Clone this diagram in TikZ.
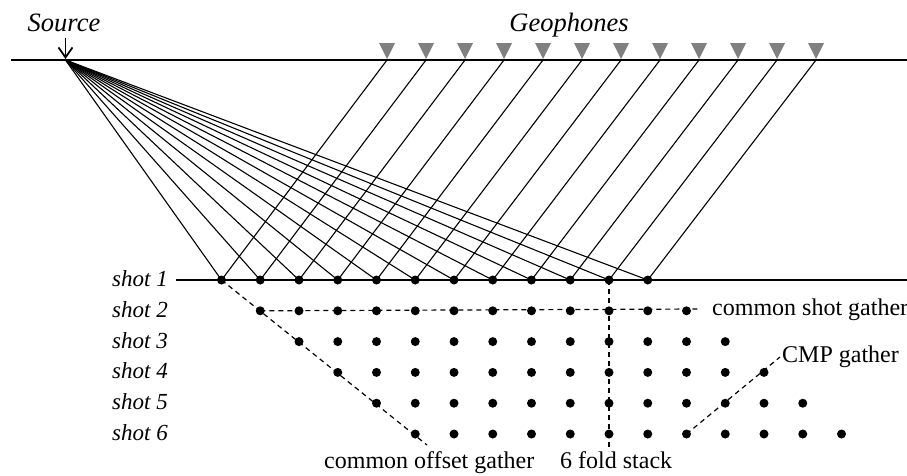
\documentclass[tikz,border=0pt]{standalone}
\usepackage{fontspec}
\setmainfont{Liberation Serif}
\usetikzlibrary{arrows.meta}
\definecolor{geogray}{HTML}{808080}
\begin{document}
\begin{tikzpicture}[x=1pt,y=-1pt,
  dot/.style={circle,fill=black,inner sep=0pt,minimum size=9pt},
  geo/.style={fill=geogray},
  ray/.style={line width=1.1pt},
  ground/.style={line width=1.4pt},
  gather/.style={line width=1.2pt,dash pattern=on 5pt off 4pt},
  lbl/.style={font=\fontsize{24}{28}\selectfont,inner sep=0pt,anchor=base west},
  ital/.style={font=\fontsize{26.5}{30}\selectfont\itshape,inner sep=0pt,anchor=base},
  shotlbl/.style={font=\fontsize{23}{27}\selectfont\itshape,inner sep=0pt,anchor=base east}]
\useasboundingbox (0,0) rectangle (907,475);
% surface
\coordinate (sl) at (11,60);
\coordinate (sr) at (907,60);
\draw[ground] (sl) -- (sr);
\coordinate (src) at (65.5,59);
\coordinate (srctop) at (65.5,37.5);
\draw[line width=1.8pt,-{Straight Barb[length=10pt,width=14pt,line width=1.8pt]}] (srctop) -- (src);
\node[ital] (srclbl) at (64,31) {Source};
\node[ital] (geolbl) at (569,31) {Geophones};
% reflector line
\coordinate (rl) at (176,280);
\coordinate (rr) at (907,280);
\draw[ground] (rl) -- (rr);
% dots
\foreach \r in {1,...,6}{
  \foreach \i in {0,...,11}{
    \node[dot] (d-\r-\i) at ({221.5+38.75*(\i+\r-1)},{280+30.8*(\r-1)}) {};
  }
  \node[shotlbl] (s\r) at (168,{286.5+30.8*(\r-1)}) {shot \r};
}
% geophones and rays
\coordinate (srcray) at (65.5,60);
\foreach \i in {0,...,11}{
  \coordinate (g\i) at ({387+39*\i},60);
  \fill[geo] ({387+39*\i},59) -- ++(-8,-16) -- ++(16,0) -- cycle;
  \draw[ray] (srcray) -- (d-1-\i.center) -- (g\i);
}
% gathers
\coordinate (coe) at (427,445);
\draw[gather] (d-1-0.center) -- (coe);
\coordinate (csg) at (700,309);
\draw[gather] (d-2-0.center) -- (csg);
\coordinate (fse) at (609,451);
\draw[gather] (d-1-10.center) -- (fse);
\coordinate (cmpe) at (780,357);
\draw[gather] (d-6-7.center) -- (cmpe);
% labels
\node[lbl] (t1) at (712,315) {common shot gather};
\node[lbl] (t2) at (782,362) {CMP gather};
\node[lbl] (t3) at (324,468) {common offset gather};
\node[lbl] (t4) at (560,468) {6 fold stack};
\end{tikzpicture}
\end{document}
